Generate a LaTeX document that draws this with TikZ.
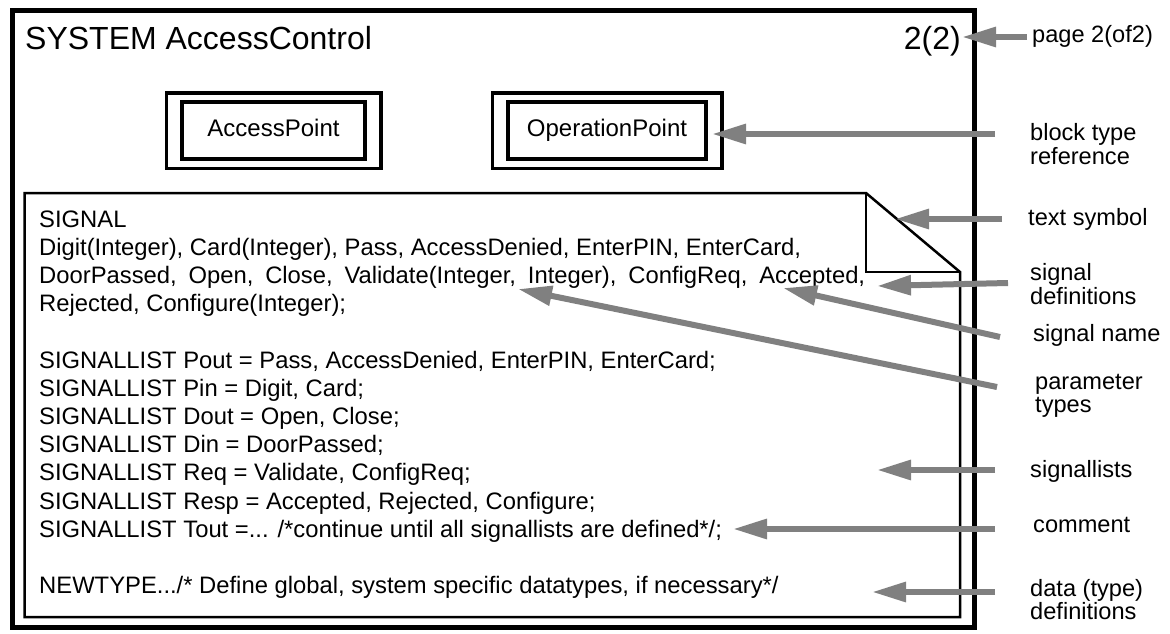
\documentclass[tikz,border=0pt]{standalone}
\usepackage{fontspec}
\setmainfont{Liberation Sans}
\usetikzlibrary{arrows.meta}
\definecolor{calloutgray}{RGB}{128,128,128}
\tikzset{
  sysframe/.style={draw=black, line width=5pt},
  textsym/.style={draw=black, line width=2.5pt, line join=miter},
  blockref/.style={draw=black, line width=3.5pt},
  blockbox/.style={draw=black, line width=3.5pt, inner sep=0pt, minimum height=57pt,
    text height=17pt, text depth=5pt, font=\fontsize{24}{28}\selectfont},
  titletext/.style={anchor=base west, inner sep=0pt, font=\fontsize{32}{36}\selectfont},
  bodytext/.style={anchor=base west, inner sep=0pt, font=\fontsize{23.8}{28}\selectfont},
  annot/.style={anchor=base west, inner sep=0pt, font=\fontsize{23.6}{24}\selectfont},
  callout/.style={draw=calloutgray, line width=6pt, -{Triangle[length=34pt,width=19pt]}},
}
\begin{document}
\begin{tikzpicture}[x=1pt,y=-1pt]
\useasboundingbox (0,0) rectangle (1170,634);
\fill[white] (0,0) rectangle (1170,634);

% heading of the diagram page
\node[titletext] (title) at (25,50) {SYSTEM AccessControl};
\node[titletext, anchor=base east] (pagenum) at (961,49) {2(2)};

% block type references
\node[blockbox, minimum width=183pt] (ap) at (273.5,130.5) {AccessPoint};
\node[blockbox, minimum width=198pt] (op) at (607,130.5) {OperationPoint};
\draw[blockref] ([shift={(-14,-7.5)}]ap.north west) rectangle ([shift={(14,7.5)}]ap.south east);
\draw[blockref] ([shift={(-14,-7.5)}]op.north west) rectangle ([shift={(14,7.5)}]op.south east);

% text symbol with folded corner
\draw[textsym] (24.5,193) -- (866,193) -- (960,272) -- (960,617) -- (24.5,617) -- cycle;
\draw[textsym] (866,193) -- (866,272) -- (960,272);

% declarations inside the text symbol
\node[bodytext] (l0)  at (39,227)   {SIGNAL};
\node[bodytext] (l1)  at (39,255.2) {Digit(Integer), Card(Integer), Pass, AccessDenied, EnterPIN, EnterCard,};
\node[bodytext] (l2)  at (39,283.4) {\makebox[826pt][s]{DoorPassed, Open, Close, Validate(Integer, Integer), ConfigReq, Accepted,}};
\node[bodytext] (l3)  at (39,311.6) {Rejected, Configure(Integer);};
\node[bodytext] (l5)  at (39,368)   {SIGNALLIST Pout = Pass, AccessDenied, EnterPIN, EnterCard;};
\node[bodytext] (l6)  at (39,396.2) {SIGNALLIST Pin = Digit, Card;};
\node[bodytext] (l7)  at (39,424.4) {SIGNALLIST Dout = Open, Close;};
\node[bodytext] (l8)  at (39,452.6) {SIGNALLIST Din = DoorPassed;};
\node[bodytext] (l9)  at (39,480.8) {SIGNALLIST Req = Validate, ConfigReq;};
\node[bodytext] (l10) at (39,509)   {SIGNALLIST Resp = Accepted, Rejected, Configure;};
\node[bodytext] (l11) at (39,537.2) {SIGNALLIST Tout =... /*continue until all signallists are defined*/;};
\node[bodytext] (l13) at (39,593.6) {NEWTYPE.../* Define global, system specific datatypes, if necessary*/};

% system frame
\draw[sysframe] (12,11) rectangle (974.5,627);

% annotations
\node[annot] (aPage)   at (1032,43)  {page 2(of2)};
\node[annot] (aBlockA) at (1030,140) {block type};
\node[annot] (aBlockB) at (1030,164) {reference};
\node[annot] (aText)   at (1028,225) {text symbol};
\node[annot] (aSigA)   at (1030,280) {signal};
\node[annot] (aSigB)   at (1030,304) {definitions};
\node[annot] (aName)   at (1033,341) {signal name};
\node[annot] (aParA)   at (1035,389) {parameter};
\node[annot] (aParB)   at (1035,412) {types};
\node[annot] (aList)   at (1030,477) {signallists};
\node[annot] (aCom)    at (1033,532) {comment};
\node[annot] (aDataA)  at (1030,596) {data (type)};
\node[annot] (aDataB)  at (1030,619) {definitions};

% callout arrow ends
\coordinate (tPage)  at (1027,37);   \coordinate (hPage)  at (962,37);
\coordinate (tBlock) at (995,134);   \coordinate (hBlock) at (712,134);
\coordinate (tText)  at (1002,219);  \coordinate (hText)  at (895,219);
\coordinate (tSig)   at (1008,283);  \coordinate (hSig)   at (877,286);
\coordinate (tName)  at (1000,337);  \coordinate (hName)  at (783,288);
\coordinate (tPar)   at (997,387);   \coordinate (hPar)   at (518,289);
\coordinate (tList)  at (995,470);   \coordinate (hList)  at (877,470);
\coordinate (tCom)   at (995,529);   \coordinate (hCom)   at (733,529);
\coordinate (tData)  at (995,592);   \coordinate (hData)  at (872,592);

\draw[callout] (tPage)  -- (hPage);
\draw[callout] (tBlock) -- (hBlock);
\draw[callout] (tText)  -- (hText);
\draw[callout] (tSig)   -- (hSig);
\draw[callout] (tName)  -- (hName);
\draw[callout] (tPar)   -- (hPar);
\draw[callout] (tList)  -- (hList);
\draw[callout] (tCom)   -- (hCom);
\draw[callout] (tData)  -- (hData);
\end{tikzpicture}
\end{document}
